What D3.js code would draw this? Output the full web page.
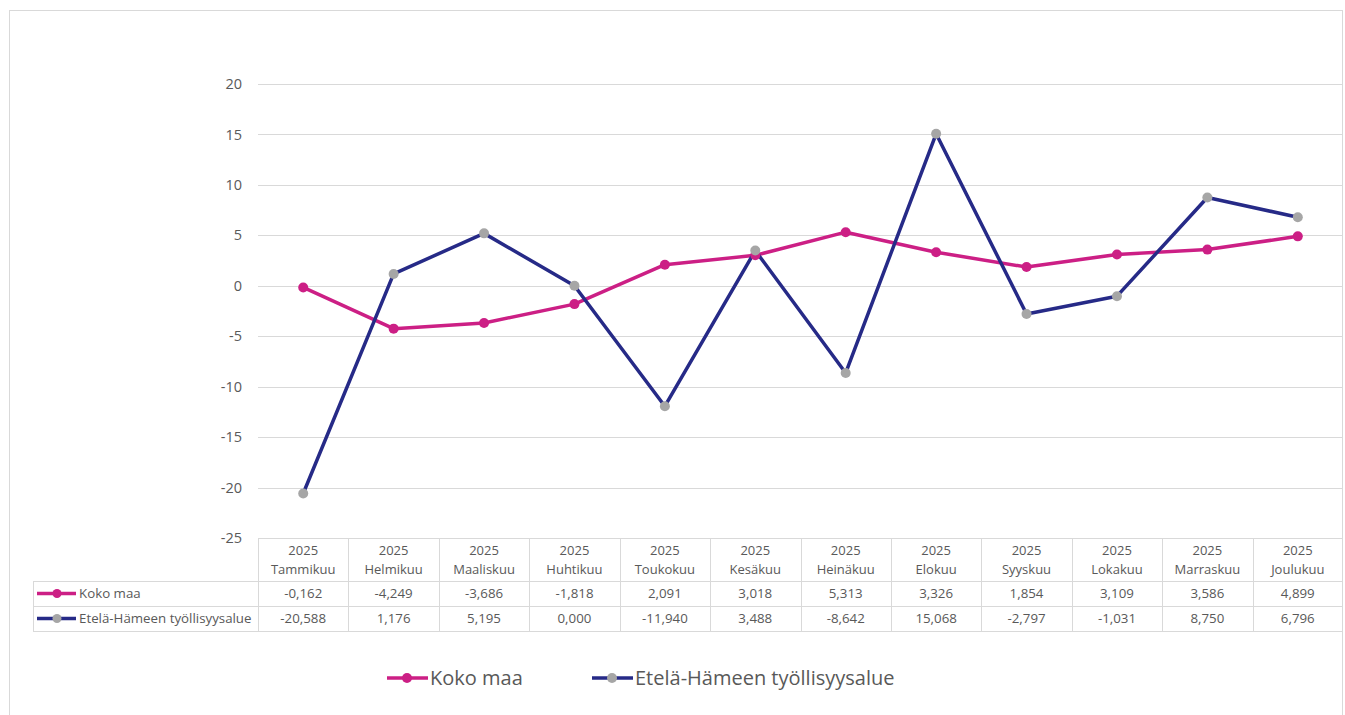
<!DOCTYPE html>
<html>
<head>
<meta charset="utf-8">
<script src="https://cdn.jsdelivr.net/npm/d3@7"></script>
<style>
  body { margin: 0; background: #fff; }
  text { font-family: "Open Sans", "Noto Sans", sans-serif; fill: #595959; }
</style>
</head>
<body>
<div id="chart"></div>
<script>
// Data
var months = ["Tammikuu", "Helmikuu", "Maaliskuu", "Huhtikuu", "Toukokuu", "Kesäkuu",
    "Heinäkuu", "Elokuu", "Syyskuu", "Lokakuu", "Marraskuu", "Joulukuu"];
var year = "2025";
var kokoMaa = [-0.162, -4.249, -3.686, -1.818, 2.091, 3.018, 5.313, 3.326, 1.854, 3.109, 3.586, 4.899];
var etelaHame = [-20.588, 1.176, 5.195, 0.000, -11.940, 3.488, -8.642, 15.068, -2.797, -1.031, 8.750, 6.796];
var yTicks = [-25, -20, -15, -10, -5, 0, 5, 10, 15, 20];

var series = [
    { name: "Koko maa", values: kokoMaa, line: "#cc1f85", marker: "#cc1f85" },
    { name: "Etelä-Hämeen työllisyysalue", values: etelaHame, line: "#262a87", marker: "#a6a6a6" }
];

var W = 1345, H = 715;
var plot = { left: 258, right: 1343, top: 84, bottom: 538 };
var grid = "#d9d9d9";

var svg = d3.select("#chart").append("svg")
    .attr("width", W)
    .attr("height", H);

// outer chart border
svg.append("rect")
    .attr("x", 9.5).attr("y", 10.5)
    .attr("width", 1333).attr("height", 720)
    .attr("fill", "none").attr("stroke", grid);

var x = d3.scaleBand()
    .domain(months)
    .range([plot.left, plot.right]);
var y = d3.scaleLinear()
    .domain([-25, 20])
    .range([plot.bottom, plot.top]);

// horizontal gridlines
svg.append("g").selectAll("line")
    .data(yTicks)
    .enter().append("line")
    .attr("x1", plot.left).attr("x2", plot.right)
    .attr("y1", function(d) { return Math.round(y(d)) + 0.5; })
    .attr("y2", function(d) { return Math.round(y(d)) + 0.5; })
    .attr("stroke", grid).attr("stroke-width", 1);

// y tick labels
svg.append("g").selectAll("text")
    .data(yTicks)
    .enter().append("text")
    .attr("x", 242)
    .attr("y", function(d) { return y(d); })
    .attr("dy", "0.35em")
    .attr("text-anchor", "end")
    .style("font-size", "14.5px")
    .text(function(d) { return d; });

// lines + markers
var line = d3.line()
    .x(function(d, i) { return x(months[i]) + x.bandwidth() / 2; })
    .y(function(d) { return y(d); });

series.forEach(function(s) {
    svg.append("path")
        .datum(s.values)
        .attr("d", line)
        .attr("fill", "none")
        .attr("stroke", s.line)
        .attr("stroke-width", 3.5)
        .attr("stroke-linejoin", "round");
});
series.forEach(function(s) {
    svg.append("g").selectAll("circle")
        .data(s.values)
        .enter().append("circle")
        .attr("cx", function(d, i) { return x(months[i]) + x.bandwidth() / 2; })
        .attr("cy", function(d) { return y(d); })
        .attr("r", 5)
        .attr("fill", s.marker);
});

// data table
var table = { left: 33, headBottom: 581, rowH: 25 };
var tg = svg.append("g").attr("stroke", grid).attr("stroke-width", 1);

// horizontal table lines
[table.headBottom, table.headBottom + table.rowH, table.headBottom + 2 * table.rowH].forEach(function(yy) {
    tg.append("line")
        .attr("x1", table.left).attr("x2", plot.right)
        .attr("y1", yy + 0.5).attr("y2", yy + 0.5);
});
// vertical table lines
months.forEach(function(m) {
    tg.append("line")
        .attr("x1", Math.round(x(m)) + 0.5).attr("x2", Math.round(x(m)) + 0.5)
        .attr("y1", plot.bottom).attr("y2", table.headBottom + 2 * table.rowH);
});
tg.append("line")
    .attr("x1", plot.right - 0.5).attr("x2", plot.right - 0.5)
    .attr("y1", plot.bottom).attr("y2", table.headBottom + 2 * table.rowH);
tg.append("line")
    .attr("x1", table.left + 0.5).attr("x2", table.left + 0.5)
    .attr("y1", table.headBottom).attr("y2", table.headBottom + 2 * table.rowH);

// header labels
var head = svg.append("g").selectAll("text")
    .data(months)
    .enter().append("text")
    .attr("text-anchor", "middle")
    .style("font-size", "13px");
head.append("tspan")
    .attr("x", function(d) { return x(d) + x.bandwidth() / 2; })
    .attr("y", 555)
    .text(year);
head.append("tspan")
    .attr("x", function(d) { return x(d) + x.bandwidth() / 2; })
    .attr("y", 574)
    .text(function(d) { return d; });

var fmt = function(v) { return d3.format(".3f")(v).replace("−", "-").replace(".", ","); };

// table rows
series.forEach(function(s, r) {
    var cy = table.headBottom + r * table.rowH + table.rowH / 2;
    svg.append("line")
        .attr("x1", 37).attr("x2", 76)
        .attr("y1", cy).attr("y2", cy)
        .attr("stroke", s.line).attr("stroke-width", 3.5);
    svg.append("circle")
        .attr("cx", 57).attr("cy", cy).attr("r", 4.5)
        .attr("fill", s.marker);
    svg.append("text")
        .attr("x", 79).attr("y", cy).attr("dy", "0.35em")
        .style("font-size", "13.3px")
        .text(s.name);
    svg.append("g").selectAll("text")
        .data(s.values)
        .enter().append("text")
        .attr("x", function(d, i) { return x(months[i]) + x.bandwidth() / 2; })
        .attr("y", cy).attr("dy", "0.35em")
        .attr("text-anchor", "middle")
        .style("font-size", "13.3px")
        .text(fmt);
});

// legend
var legendX = [387, 592];
series.forEach(function(s, i) {
    var lx = legendX[i], ly = 678;
    svg.append("line")
        .attr("x1", lx).attr("x2", lx + 41)
        .attr("y1", ly).attr("y2", ly)
        .attr("stroke", s.line).attr("stroke-width", 3.5);
    svg.append("circle")
        .attr("cx", lx + 20).attr("cy", ly).attr("r", 5)
        .attr("fill", s.marker);
    svg.append("text")
        .attr("x", lx + 43).attr("y", ly).attr("dy", "0.35em")
        .style("font-size", "20px")
        .text(s.name);
});
</script>
</body>
</html>
